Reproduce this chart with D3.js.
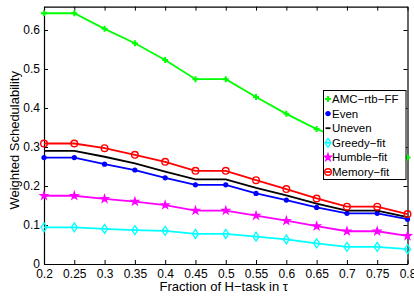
<!DOCTYPE html>
<html>
<head>
<script src="https://d3js.org/d3.v7.min.js"></script>
<style>
  body { margin: 0; background: #fff; }
  text { font-family: "Liberation Sans", Arial, sans-serif; fill: #000; }
</style>
</head>
<body>
<div id="chart"></div>
<script>
// fraction of H-task (x values)
const fractions = [0.2, 0.25, 0.3, 0.35, 0.4, 0.45, 0.5, 0.55, 0.6, 0.65, 0.7, 0.75, 0.8];
const xTicks = ["0.2", "0.25", "0.3", "0.35", "0.4", "0.45", "0.5", "0.55", "0.6", "0.65", "0.7", "0.75", "0.8"];
const yTicks = [0, 0.1, 0.2, 0.3, 0.4, 0.5, 0.6];

// weighted schedulability per method
const amcRtbFF   = [0.643, 0.643, 0.603, 0.566, 0.523, 0.474, 0.474, 0.428, 0.385, 0.346, 0.318, 0.295, 0.273];
const even       = [0.273, 0.273, 0.256, 0.241, 0.221, 0.203, 0.203, 0.181, 0.164, 0.145, 0.130, 0.130, 0.115];
const uneven     = [0.290, 0.290, 0.275, 0.258, 0.237, 0.217, 0.217, 0.195, 0.176, 0.155, 0.137, 0.137, 0.120];
const greedyFit  = [0.094, 0.094, 0.090, 0.087, 0.085, 0.077, 0.077, 0.070, 0.063, 0.053, 0.044, 0.044, 0.038];
const humbleFit  = [0.175, 0.175, 0.167, 0.160, 0.151, 0.137, 0.137, 0.124, 0.111, 0.097, 0.084, 0.084, 0.072];
const memoryFit  = [0.309, 0.309, 0.297, 0.280, 0.262, 0.239, 0.239, 0.215, 0.192, 0.168, 0.147, 0.147, 0.128];

const seriesNames = ["AMC\u2212rtb\u2212FF", "Even", "Uneven", "Greedy\u2212fit", "Humble\u2212fit", "Memory\u2212fit"];
const seriesValues = [amcRtbFF, even, uneven, greedyFit, humbleFit, memoryFit];
const seriesColors = ["#00ff00", "#0000ff", "#000000", "#00ffff", "#ff00ff", "#ff0000"];
const seriesMarkers = ["plus", "dot", "none", "diamond", "star", "circle"];

const W = 414, H = 297;
const svg = d3.select("#chart").append("svg")
  .attr("width", W).attr("height", H);

const x = d3.scaleLinear().domain([0.2, 0.8]).range([44, 407.5]);
const y = d3.scaleLinear().domain([0, 0.66]).range([264, 6.6]);

// axes with inward ticks (matlab style)
const tk = 4;
const axB = svg.append("g").attr("transform", `translate(0,${y(0)})`)
  .call(d3.axisBottom(x).tickValues(fractions).tickFormat((d, i) => xTicks[i]).tickSizeInner(-tk).tickSizeOuter(0).tickPadding(5));
const axT = svg.append("g").attr("transform", `translate(0,${y(0.66)})`)
  .call(d3.axisTop(x).tickValues(fractions).tickFormat("").tickSizeInner(-tk).tickSizeOuter(0));
const axL = svg.append("g").attr("transform", `translate(${x(0.2)},0)`)
  .call(d3.axisLeft(y).tickValues(yTicks).tickFormat(d => d === 0 ? "0" : d3.format(".1f")(d)).tickSizeInner(-tk).tickSizeOuter(0).tickPadding(4));
const axR = svg.append("g").attr("transform", `translate(${x(0.8)},0)`)
  .call(d3.axisRight(y).tickValues(yTicks).tickFormat("").tickSizeInner(-tk).tickSizeOuter(0));

[axB, axT, axL, axR].forEach(a => {
  a.select(".domain").attr("stroke", "#000").attr("stroke-width", 1.2);
  a.selectAll(".tick line").attr("stroke", "#000").attr("stroke-width", 1);
  a.selectAll("text").style("font-size", "12px").attr("fill", "#000");
});

// series
const line = d3.line().x((d, i) => x(fractions[i])).y(d => y(d));

function drawMarker(g, type, cx, cy, color) {
  if (type === "plus") {
    g.append("path").attr("d", `M${cx - 3},${cy}H${cx + 3}M${cx},${cy - 3}V${cy + 3}`)
      .attr("stroke", color).attr("stroke-width", 2).attr("fill", "none");
  } else if (type === "dot") {
    g.append("circle").attr("cx", cx).attr("cy", cy).attr("r", 2.6).attr("fill", color);
  } else if (type === "diamond") {
    g.append("path").attr("d", `M${cx},${cy - 4.5}L${cx + 3},${cy}L${cx},${cy + 4.5}L${cx - 3},${cy}Z`)
      .attr("stroke", color).attr("stroke-width", 1.3).attr("fill", "none");
  } else if (type === "star") {
    g.append("path").attr("d", d3.symbol().type(d3.symbolStar).size(16)())
      .attr("transform", `translate(${cx},${cy})`)
      .attr("stroke", color).attr("stroke-width", 1.3).attr("fill", color);
  } else if (type === "circle") {
    g.append("circle").attr("cx", cx).attr("cy", cy).attr("r", 3.3)
      .attr("stroke", color).attr("stroke-width", 1.4).attr("fill", "none");
  }
}

seriesValues.forEach((vals, s) => {
  const g = svg.append("g");
  g.append("path").datum(vals).attr("d", line)
    .attr("fill", "none").attr("stroke", seriesColors[s]).attr("stroke-width", 1.8);
  vals.forEach((v, i) => drawMarker(g, seriesMarkers[s], x(fractions[i]), y(v), seriesColors[s]));
});

// legend
const leg = svg.append("g");
leg.append("rect").attr("x", 323.5).attr("y", 90.5).attr("width", 82.5).attr("height", 89)
  .attr("fill", "#fff").attr("stroke", "#000").attr("stroke-width", 1);
seriesNames.forEach((name, s) => {
  const cy = 99 + s * 14.6;
  leg.append("line").attr("x1", 325.5).attr("x2", 330.5).attr("y1", cy).attr("y2", cy)
    .attr("stroke", seriesColors[s]).attr("stroke-width", 1.8);
  drawMarker(leg, seriesMarkers[s], 328, cy, seriesColors[s]);
  leg.append("text").attr("x", 332).attr("y", cy + 4).style("font-size", "11.5px").text(name);
});

// axis titles
svg.append("text").attr("x", (x(0.2) + x(0.8)) / 2 - 2).attr("y", 291)
  .attr("text-anchor", "middle").style("font-size", "13px")
  .text("Fraction of H\u2212task in \u03c4");
svg.append("text").attr("transform", `translate(19,${(y(0) + y(0.66)) / 2 + 5}) rotate(-90)`)
  .attr("text-anchor", "middle").style("font-size", "13px")
  .text("Weighted Schedulability");
</script>
</body>
</html>
